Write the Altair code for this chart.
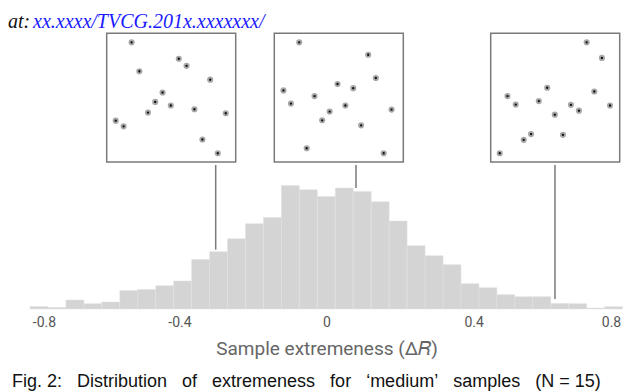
import altair as alt
import pandas as pd

# ---------------- data ----------------
bin_edges = [-0.8062, -0.7574, -0.7086, -0.6597, -0.6109, -0.5621, -0.5132, -0.4644,
             -0.4156, -0.3667, -0.3179, -0.2691, -0.2202, -0.1714, -0.1226, -0.0737,
             -0.0249, 0.0239, 0.0727, 0.1216, 0.1704, 0.2192, 0.2681, 0.3169,
             0.3657, 0.4146, 0.4634, 0.5122, 0.5611, 0.6099, 0.6587, 0.7076,
             0.7564, 0.8052]
counts = [2.6, 1.6, 9.0, 5.3, 7.0, 18.6, 19.6, 23.3, 28.0, 49.6, 57.3, 70.3, 85.3,
          91.6, 123.6, 119.3, 112.6, 121.0, 117.6, 107.3, 88.0, 63.3, 53.3, 44.3,
          25.3, 21.3, 14.3, 12.3, 12.3, 5.6, 5.3, 1.0, 2.3]
tick_values = [-0.8, -0.4, 0, 0.4, 0.8]

sample_x = [-0.3013, 0.0802, 0.6213]
sample_top = [59.3, 121.0, 10.0]

inset1_x = [0.193, 0.559, 0.619, 0.253, 0.802, 0.433, 0.376, 0.497, 0.320, 0.680, 0.923, 0.070, 0.131, 0.742, 0.861]
inset1_y = [0.930, 0.802, 0.747, 0.705, 0.640, 0.540, 0.467, 0.439, 0.384, 0.410, 0.379, 0.321, 0.277, 0.175, 0.068]
inset2_x = [0.193, 0.728, 0.787, 0.071, 0.490, 0.612, 0.312, 0.129, 0.551, 0.429, 0.909, 0.371, 0.673, 0.251, 0.848]
inset2_y = [0.930, 0.833, 0.653, 0.556, 0.606, 0.574, 0.512, 0.454, 0.439, 0.392, 0.407, 0.324, 0.285, 0.107, 0.068]
inset3_x = [0.744, 0.862, 0.438, 0.130, 0.803, 0.194, 0.373, 0.622, 0.925, 0.684, 0.497, 0.313, 0.560, 0.256, 0.070]
inset3_y = [0.930, 0.809, 0.577, 0.512, 0.548, 0.446, 0.473, 0.444, 0.439, 0.399, 0.368, 0.217, 0.211, 0.172, 0.068]

x_title = "Sample extremeness (Δ\U0001D445)"
head_prefix = "at:"
head_link = "xx.xxxx/TVCG.201x.xxxxxxx/"
caption_words = ["Fig. 2:", "Distribution", "of", "extremeness", "for", "\u2018medium\u2019",
                 "samples", "(N\u00a0=\u00a015)"]
caption = ("\u00a0\u00a0\u00a0").join(caption_words)

# ---------------- chart ----------------
hist_df = pd.DataFrame({"lo": bin_edges[:-1], "hi": bin_edges[1:], "count": counts})
rule_df = pd.DataFrame({"lo": sample_x, "top": sample_top})

xscale = alt.Scale(domain=[-0.8, 0.8], range=[24.3, 612.7])
yscale = alt.Scale(domain=[0, 301])
xaxis = alt.Axis(values=tick_values, grid=False, domain=False, ticks=False, tickSize=0,
                 labelPadding=6, labelFontSize=14, labelColor="#555", labelFont="Roboto",
                 labelExpr="datum.value == 0 ? '0' : (datum.value < 0 ? '-' : '') + format(abs(datum.value), '.1f')",
                 titleFontSize=19, titleColor="#666", titleFont="Roboto", titleFontWeight="normal",
                 titlePadding=10)

hist = alt.Chart(hist_df).mark_rect(color="#d4d4d4", stroke="#e2e2e2", strokeWidth=0.5).encode(
    x=alt.X("lo:Q", scale=xscale, axis=xaxis, title=x_title),
    x2="hi:Q",
    y=alt.Y("count:Q", scale=yscale, axis=None),
    y2=alt.datum(0),
)

rules = alt.Chart(rule_df).mark_rule(color="#7a7a7a", strokeWidth=1.5).encode(
    x=alt.X("lo:Q", scale=xscale, axis=xaxis, title=x_title),
    y=alt.Y("top:Q", scale=yscale, axis=None),
    y2=alt.value(157),
)

head1 = alt.Chart(pd.DataFrame({"t": [head_prefix]})).mark_text(
    align="left", baseline="alphabetic", font="Liberation Serif", fontStyle="italic",
    fontSize=20, color="#111").encode(x=alt.value(0), y=alt.value(19.5), text="t:N")
head2 = alt.Chart(pd.DataFrame({"t": [head_link]})).mark_text(
    align="left", baseline="alphabetic", font="Liberation Serif", fontStyle="italic",
    fontSize=20, color="#1a1aff").encode(x=alt.value(25), y=alt.value(19.5), text="t:N")
cap = alt.Chart(pd.DataFrame({"t": [caption]})).mark_text(
    align="left", baseline="alphabetic", font="Liberation Sans",
    fontSize=18, color="#111").encode(x=alt.value(4), y=alt.value(379), text="t:N")

main = alt.layer(hist, rules, head1, head2, cap)


def inset(xs, ys, xr):
    df = pd.DataFrame({"x": xs, "y": ys})
    box_df = pd.DataFrame({"x": [0], "x2": [1], "y": [0], "y2": [1]})
    sx = alt.Scale(domain=[0, 1], range=xr)
    sy = alt.Scale(domain=[0, 1], range=[154, 25.3])
    box = alt.Chart(box_df).mark_rect(fill="white", stroke="#7a7a7a", strokeWidth=1.5).encode(
        x=alt.X("x:Q", scale=sx, axis=None), x2="x2:Q",
        y=alt.Y("y:Q", scale=sy, axis=None), y2="y2:Q")
    pts = alt.Chart(df).mark_circle(size=18, color="#111", opacity=1, stroke="#a8a8a8",
                                    strokeWidth=1.9).encode(
        x=alt.X("x:Q", scale=sx, axis=None),
        y=alt.Y("y:Q", scale=sy, axis=None))
    return alt.layer(box, pts)


chart = alt.layer(
    main,
    inset(inset1_x, inset1_y, [98.7, 227.7]),
    inset(inset2_x, inset2_y, [266.3, 395.3]),
    inset(inset3_x, inset3_y, [482.7, 611.7]),
).resolve_scale(x="independent", y="independent").properties(
    width=624, height=301,
    autosize=alt.AutoSizeParams(type="none"),
    padding={"left": 0, "top": 0, "right": 0, "bottom": 83},
).configure_view(stroke=None)

chart.save("out.html", embed_options={"renderer": "svg", "actions": False})
